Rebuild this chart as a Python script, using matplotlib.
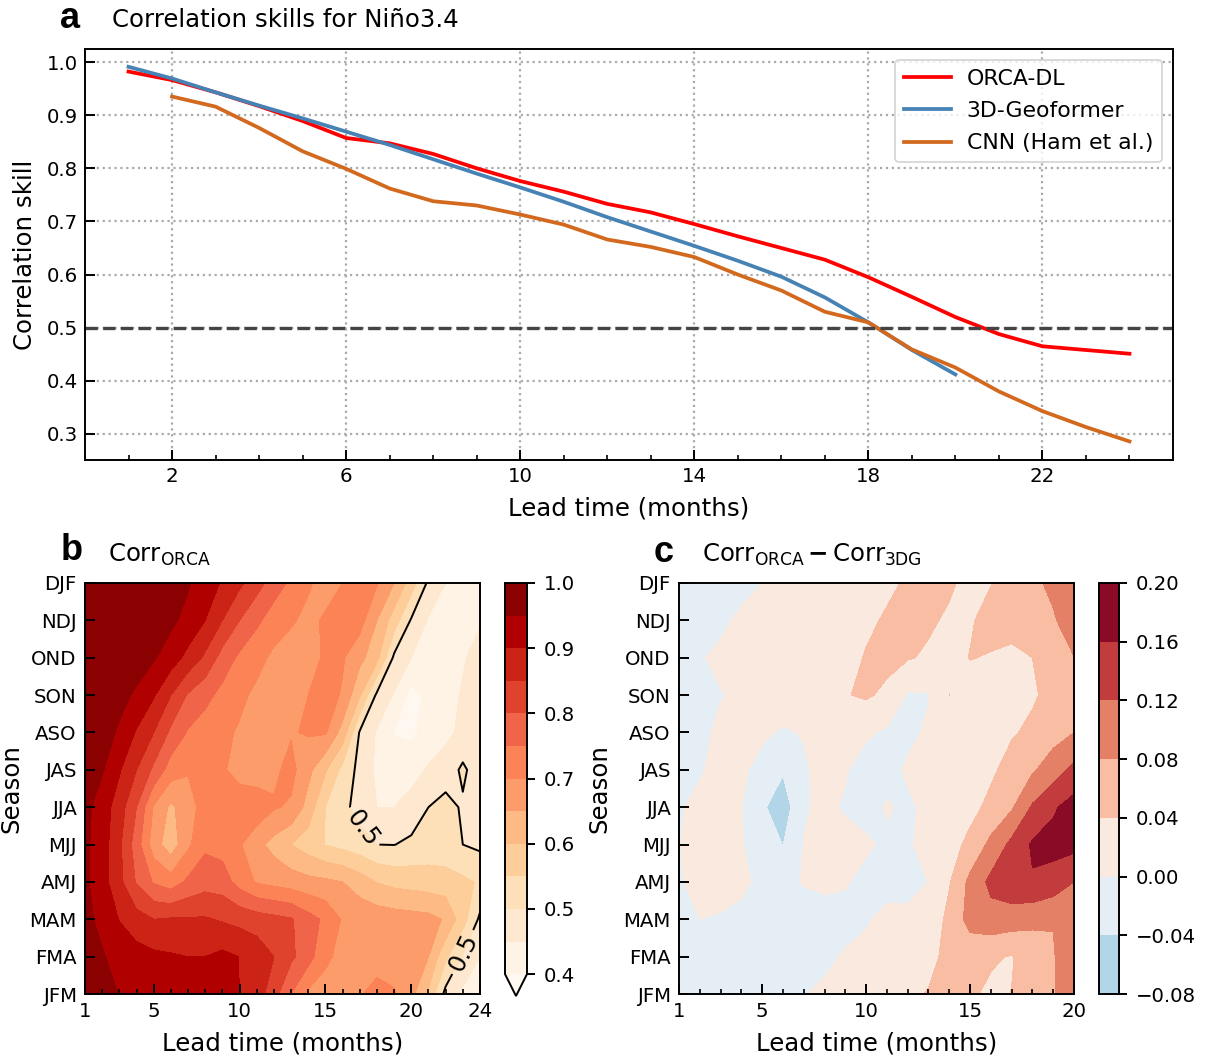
import numpy as np
import matplotlib
matplotlib.use("Agg")
import matplotlib.pyplot as plt
from matplotlib.colors import ListedColormap, BoundaryNorm

plt.rcParams['font.family'] = 'DejaVu Sans'
plt.rcParams['mathtext.fontset'] = 'dejavusans'

W, H = 1209, 1059

lead_a = list(range(1, 25))
orca = [.982, .966, .943, .917, .889, .857, .847, .827, .800, .776, .756, .733, .717, .695, .672, .650, .628, .595, .558, .520, .488, .465, .458, .451]
lead_g = list(range(1, 21))
geof = [.991, .969, .943, .918, .894, .869, .844, .817, .790, .764, .737, .708, .681, .654, .626, .596, .557, .510, .458, .412]
lead_c = list(range(2, 25))
cnn = [.935, .916, .876, .832, .799, .762, .738, .730, .713, .694, .666, .652, .633, .600, .570, .530, .510, .459, .425, .380, .343, .313, .286]

seasons = ['JFM', 'FMA', 'MAM', 'AMJ', 'MJJ', 'JJA', 'JAS', 'ASO', 'SON', 'OND', 'NDJ', 'DJF']

corr_jfm = [.99, .97, .948, .935, .93, .925, .92, .915, .91, .90, .875, .82, .75, .69, .68, .685, .695, .72, .705, .665, .59, .485, .44, .42]
corr_fma = [.975, .955, .93, .92, .911, .905, .90, .90, .912, .899, .88, .85, .81, .77, .71, .685, .68, .675, .675, .67, .65, .56, .495, .45]
corr_mam = [.965, .935, .898, .87, .85, .855, .855, .855, .845, .835, .825, .815, .805, .77, .74, .695, .685, .68, .675, .67, .665, .645, .57, .49]
corr_amj = [.96, .92, .865, .795, .745, .724, .76, .78, .775, .73, .695, .685, .675, .665, .66, .65, .625, .598, .585, .58, .575, .57, .56, .545]
corr_mjj = [.96, .925, .86, .775, .675, .62, .69, .74, .73, .705, .665, .633, .60, .575, .548, .535, .52, .50, .499, .51, .52, .52, .50, .49]
corr_jja = [.965, .925, .875, .80, .695, .64, .68, .72, .73, .724, .734, .705, .693, .63, .55, .515, .48, .45, .45, .47, .50, .52, .493, .48]
corr_jas = [.975, .955, .905, .85, .79, .726, .704, .72, .705, .685, .67, .69, .715, .665, .605, .535, .485, .44, .42, .43, .455, .47, .51, .47]
corr_aso = [.98, .965, .945, .895, .85, .79, .745, .725, .71, .695, .68, .675, .696, .705, .705, .63, .495, .445, .398, .39, .42, .44, .46, .47]
corr_son = [.985, .975, .96, .945, .905, .85, .795, .765, .735, .71, .69, .685, .68, .70, .72, .695, .605, .49, .445, .385, .41, .43, .455, .47]
corr_ond = [.99, .985, .975, .965, .955, .925, .885, .84, .78, .74, .715, .69, .68, .675, .71, .705, .665, .615, .49, .45, .398, .42, .445, .47]
corr_ndj = [.99, .985, .98, .975, .97, .96, .935, .90, .85, .80, .76, .725, .705, .69, .705, .72, .72, .65, .575, .495, .445, .43, .43, .445]
corr_djf = [.99, .985, .98, .975, .97, .965, .955, .925, .895, .86, .82, .775, .74, .705, .685, .70, .715, .705, .65, .575, .49, .45, .45, .43]

diff_jfm = [-.022, -.02, -.018, -.015, -.01, -.005, -.001, .005, .012, .02, .027, .033, .042, .05, .045, .034, .0405, .06, .078, .10]
diff_fma = [-.02, -.02, -.02, -.018, -.016, -.015, -.012, -.006, .003, .01, .015, .02, .03, .05, .055, .044, .038, .055, .078, .10]
diff_mam = [-.012, 0, -.002, -.006, -.01, -.014, -.015, -.012, -.01, -.004, .011, .007, .015, .05, .094, .106, .10, .09, .081, .095]
diff_amj = [-.002, .007, .009, .005, -.006, -.01, .002, .006, .003, -.01, -.015, -.01, .0005, .037, .09, .13, .148, .157, .145, .12]
diff_mjj = [-.0005, .006, .008, .002, -.015, -.041, .001, .008, .012, .005, -.006, -.004, .01, .025, .05, .09, .13, .165, .172, .172]
diff_jja = [-.002, .005, .008, .001, -.034, -.062, -.004, .008, -.004, -.012, .003, -.006, .008, .016, .028, .05, .075, .125, .155, .176]
diff_jas = [-.005, -.002, .006, .003, -.006, -.036, -.002, .005, .003, -.015, -.012, .005, .012, .018, .024, .033, .055, .075, .10, .13]
diff_aso = [-.01, -.005, .004, .008, .003, -.002, .001, .01, .01, .005, -.005, -.008, .005, .015, .02, .03, .036, .048, .065, .08]
diff_son = [-.012, -.008, -.001, .003, .005, .01, .015, .025, .038, .045, .032, -.004, -.002, .0405, .025, .02, .02, .035, .052, .068]
diff_ond = [-.015, -.002, .005, .01, .012, .015, .02, .025, .03, .042, .05, .043, .035, .03, .041, .038, .028, .04, .06, .079]
diff_ndj = [-.02, -.015, -.005, .005, .01, .015, .02, .025, .03, .035, .043, .05, .045, .035, .037, .05, .06, .065, .075, .105]
diff_djf = [-.02, -.02, -.015, -.008, 0, .005, .01, .015, .02, .027, .035, .043, .05, .045, .03, .039, .05, .07, .09, .10]

levels_b = [.4, .45, .5, .55, .6, .65, .7, .75, .8, .85, .9, .95, 1.0]
colors_b = ['#fff3e6', '#fee8cf', '#fddfb8', '#fdcd9a', '#fdba85', '#fc9c6b', '#fb8355', '#f0644a', '#e0432d', '#cb2316', '#b00000', '#8b0000']
under_b = '#fff8f0'
levels_c = [-.08, -.04, 0, .04, .08, .12, .16, .20]
colors_c = ['#b2d6e8', '#e5eef5', '#f9e9df', '#f9bda3', '#e48066', '#c23c3d', '#8a0b25']


def axpx(l, t, r, b):
    return [l / W, 1 - b / H, (r - l) / W, (b - t) / H]


def style(ax):
    for s in ax.spines.values():
        s.set_linewidth(1.4)


fs_tick = 14.2
fs_lab = 17.6
LETTER = ['Liberation Sans']

fig = plt.figure(figsize=(W / 100, H / 100), dpi=100)

# panel a
ax = fig.add_axes(axpx(85, 49, 1173, 460))
ax.plot(lead_a, orca, color='#ff0000', lw=2.7, label='ORCA-DL')
ax.plot(lead_g, geof, color='#4682b4', lw=2.7, label='3D-Geoformer')
ax.plot(lead_c, cnn, color='#d2691e', lw=2.7, label='CNN (Ham et al.)')
ax.axhline(.5, color='#444444', ls='--', lw=2.4)
ax.set_xlim(0, 25)
ax.set_ylim(.251, 1.0245)
ax.set_xticks(range(2, 24, 4))
ax.set_xticks(range(1, 25), minor=True)
ax.set_yticks(np.arange(.3, 1.01, .1))
ax.grid(True, which='major', ls=':', color='#aaaaaa', lw=1.6)
ax.tick_params(which='major', direction='in', length=7, width=1.4, labelsize=fs_tick, pad=5)
ax.tick_params(which='minor', direction='in', length=3.6, width=1.2)
ax.set_xlabel('Lead time (months)', fontsize=fs_lab, labelpad=7.5)
ax.set_ylabel('Correlation skill', fontsize=fs_lab, labelpad=7)
leg = ax.legend(loc='upper right', fontsize=15.8, handlelength=2.15, handletextpad=.7, labelspacing=.56,
                framealpha=.8, borderaxespad=.5, edgecolor='#cccccc')
leg.get_frame().set_linewidth(1.3)
style(ax)
fig.text(112 / W, 1 - 20 / H, 'Correlation skills for Niño3.4', fontsize=fs_lab, va='center')
fig.text(60 / W, 1 - 18 / H, 'a', fontsize=26, fontweight='bold', family=LETTER, va='center')

# panel b
xb = np.arange(1, 25)
yy = np.arange(12)
Zb = np.array([corr_jfm, corr_fma, corr_mam, corr_amj, corr_mjj, corr_jja, corr_jas, corr_aso, corr_son, corr_ond, corr_ndj, corr_djf])
cmap_b = ListedColormap(colors_b)
cmap_b.set_under(under_b)
norm_b = BoundaryNorm(levels_b, cmap_b.N)
ax = fig.add_axes(axpx(85, 583, 480, 994))
cf = ax.contourf(xb, yy, Zb, levels=levels_b, cmap=cmap_b, norm=norm_b, extend='min')
cs = ax.contour(xb, yy, Zb, levels=[.5], colors='k', linewidths=1.4)
ax.clabel(cs, fmt='%.1f', fontsize=fs_lab, inline=True,
          manual=[(17.3, 4.5), (22.6, 1.2)])
ax.set_xticks([1, 5, 10, 15, 20, 24])
ax.set_xticks(xb, minor=True)
ax.set_yticks(yy)
ax.set_yticklabels(seasons)
ax.tick_params(which='major', direction='in', length=7, width=1.4, labelsize=fs_tick, pad=6)
ax.tick_params(which='minor', direction='in', length=3.6, width=1.2)
ax.set_xlabel('Lead time (months)', fontsize=fs_lab, labelpad=7.5)
ax.set_ylabel('Season', fontsize=fs_lab, labelpad=4)
style(ax)
cax = fig.add_axes(axpx(505, 583, 527, 996))
cb = fig.colorbar(cf, cax=cax, ticks=[.4, .5, .6, .7, .8, .9, 1.0], extendfrac=.056)
cb.ax.minorticks_off()
cb.ax.tick_params(direction='out', length=6, width=1.4, labelsize=fs_tick, pad=6)
cb.outline.set_linewidth(1.4)
fig.text(108 / W, 1 - 555 / H, r'$\mathrm{Corr}_{\mathrm{ORCA}}$', fontsize=fs_lab, va='center')
fig.text(61 / W, 1 - 551 / H, 'b', fontsize=26, fontweight='bold', family=LETTER, va='center')

# panel c
xc = np.arange(1, 21)
Zc = np.array([diff_jfm, diff_fma, diff_mam, diff_amj, diff_mjj, diff_jja, diff_jas, diff_aso, diff_son, diff_ond, diff_ndj, diff_djf])
cmap_c = ListedColormap(colors_c)
norm_c = BoundaryNorm(levels_c, cmap_c.N)
ax = fig.add_axes(axpx(679, 583, 1074, 994))
cf = ax.contourf(xc, yy, Zc, levels=levels_c, cmap=cmap_c, norm=norm_c)
ax.set_xticks([1, 5, 10, 15, 20])
ax.set_xticks(xc, minor=True)
ax.set_yticks(yy)
ax.set_yticklabels(seasons)
ax.tick_params(which='major', direction='in', length=7, width=1.4, labelsize=fs_tick, pad=6)
ax.tick_params(which='minor', direction='in', length=3.6, width=1.2)
ax.set_xlabel('Lead time (months)', fontsize=fs_lab, labelpad=7.5)
ax.set_ylabel('Season', fontsize=fs_lab, labelpad=9)
style(ax)
cax = fig.add_axes(axpx(1099, 583, 1119, 994))
cb = fig.colorbar(cf, cax=cax, ticks=levels_c)
cb.ax.minorticks_off()
cb.ax.set_yticklabels(['\u22120.08', '\u22120.04', '0.00', '0.04', '0.08', '0.12', '0.16', '0.20'])
cb.ax.tick_params(direction='out', length=6, width=1.4, labelsize=fs_tick, pad=6)
cb.outline.set_linewidth(1.4)
fig.text(702 / W, 1 - 555 / H, r'$\mathrm{Corr}_{\mathrm{ORCA}}\,\mathbf{-}\,\mathrm{Corr}_{\mathrm{3DG}}$', fontsize=fs_lab, va='center')
fig.text(654 / W, 1 - 553 / H, 'c', fontsize=26, fontweight='bold', family=LETTER, va='center')

fig.savefig('out.png', dpi=100)
